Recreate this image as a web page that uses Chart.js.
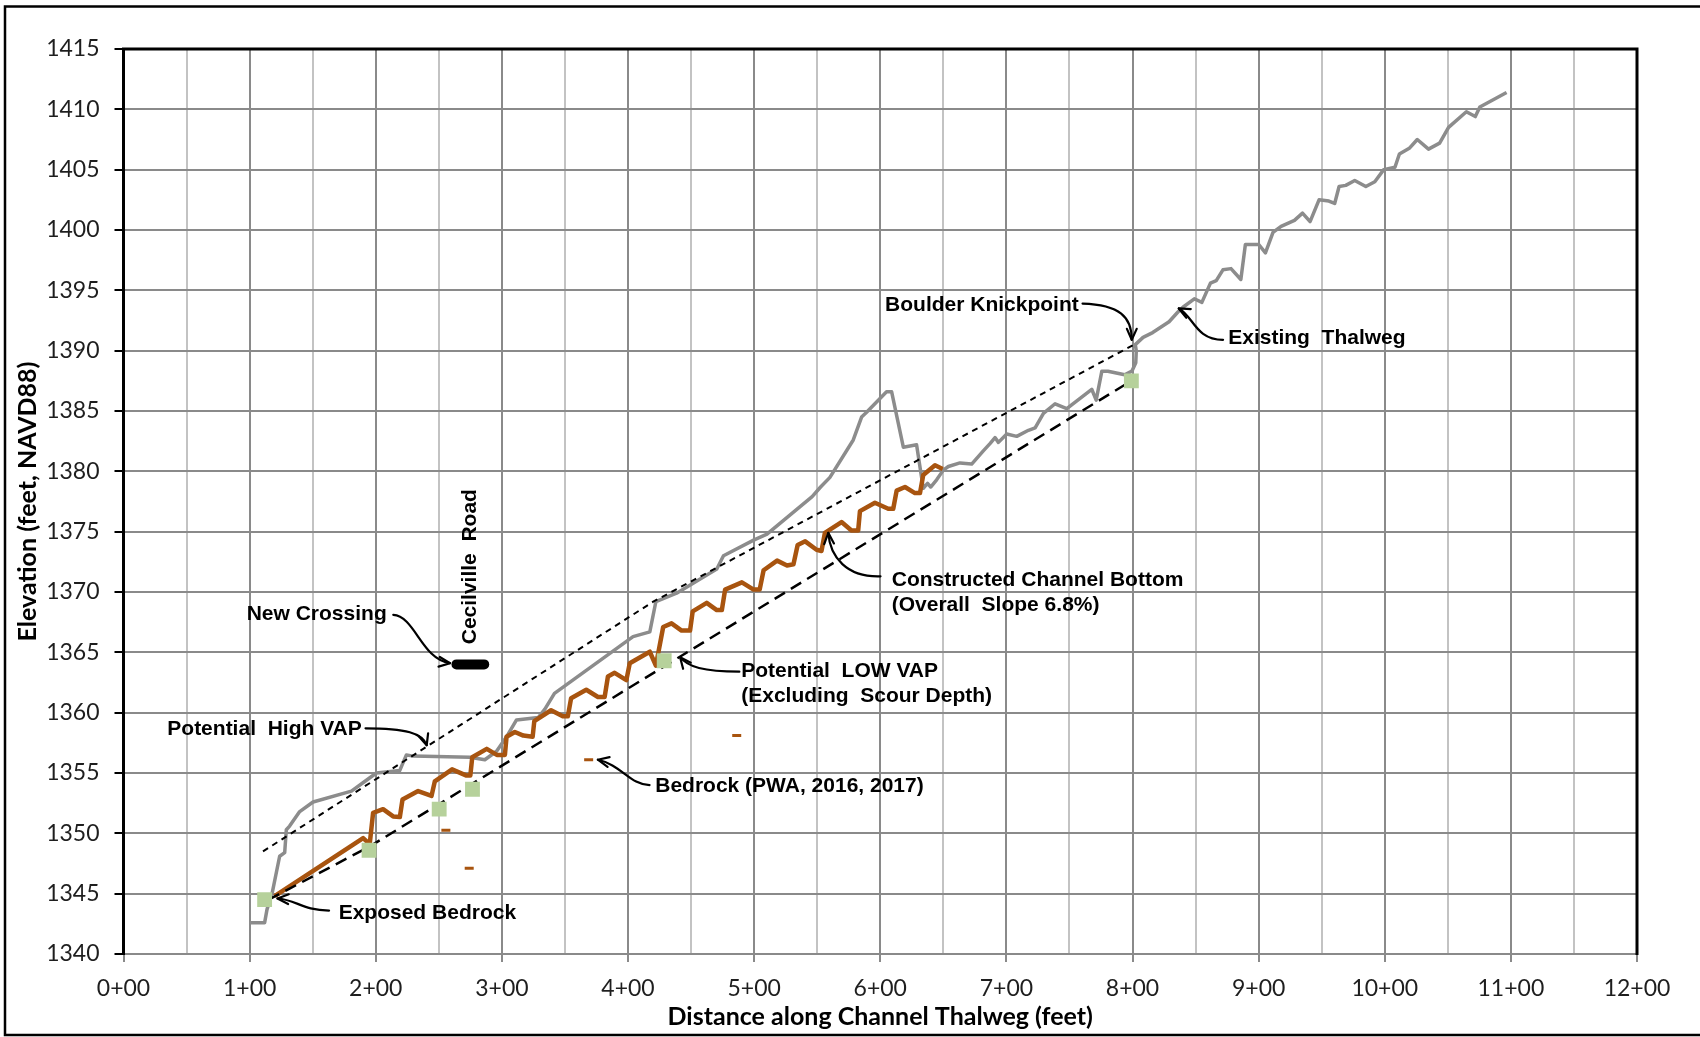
<!DOCTYPE html>
<html>
<head>
<meta charset="utf-8">
<style>
  html, body { margin: 0; padding: 0; background: #ffffff; }
  canvas { display: block; }
</style>
<script src="https://cdn.jsdelivr.net/npm/chart.js@4/dist/chart.umd.min.js"></script>
</head>
<body>
<canvas id="profile" width="1700" height="1037"></canvas>
<script>
// ---- Survey and design data (station in feet, elevation in feet NAVD88) ----

// Existing channel thalweg
const thalwegStation = [
  100, 111.9, 113.8, 118.0, 123.8, 127.8, 129.1, 131.7, 139.7, 150.3,
  180.7, 192.6, 200.5, 219.0, 224.3, 229.6, 274.6, 286.5, 295.8, 303.7,
  311.6, 328.8, 334.1, 341.7, 404.0, 417.3, 422.1, 438.5, 470.4, 475.7,
  499.6, 510.2, 546.0, 552.7, 560.1, 578.6, 585.2, 589.2, 605.0, 609.0,
  618.3, 628.8, 634.1, 637.5, 640.0, 644.7, 650.0, 654.0, 663.2, 672.5,
  681.7, 687.0, 691.0, 693.7, 700.3, 708.2, 717.5, 722.8, 729.4, 738.6,
  747.9, 767.7, 771.2, 775.7, 780.5, 793.8, 799.5, 802.6, 803.0, 802.2,
  808.4, 816.0, 829.0, 836.0, 840.0, 849.0, 855.0, 861.8, 866.4, 871.7,
  878.1, 885.9, 889.5, 900.1, 905.4, 911.4, 917.8, 928.4, 934.8, 940.8,
  947.9, 955.7, 960.3, 963.8, 969.1, 976.2, 985.0, 992.1, 999.2, 1008.1,
  1011.6, 1019.8, 1025.8, 1034.7, 1043.5, 1050.6, 1064.7, 1071.8, 1075.4, 1096.6
];
const thalwegElevation = [
  1342.6, 1342.6, 1343.7, 1345.1, 1348.1, 1348.4, 1350.3, 1350.6, 1351.8, 1352.6,
  1353.5, 1354.4, 1355.0, 1355.2, 1356.5, 1356.4, 1356.3, 1356.1, 1356.8, 1358.0,
  1359.4, 1359.6, 1360.3, 1361.6, 1366.3, 1366.7, 1369.2, 1369.9, 1371.9, 1373.0,
  1374.3, 1374.8, 1377.9, 1378.7, 1379.5, 1382.6, 1384.5, 1384.9, 1386.6, 1386.6,
  1382.0, 1382.2, 1378.6, 1379.0, 1378.7, 1379.3, 1380.1, 1380.4, 1380.7, 1380.6,
  1381.7, 1382.3, 1382.8, 1382.4, 1383.1, 1382.9, 1383.4, 1383.6, 1384.8, 1385.6,
  1385.2, 1386.8, 1385.9, 1388.3, 1388.3, 1388.0, 1388.3, 1389.0, 1390.0, 1390.5,
  1391.1, 1391.5, 1392.4, 1393.2, 1393.6, 1394.3, 1394.0, 1395.6, 1395.8, 1396.7,
  1396.8, 1395.9, 1398.8, 1398.8, 1398.1, 1399.8, 1400.3, 1400.8, 1401.4, 1400.7,
  1402.5, 1402.4, 1402.2, 1403.6, 1403.7, 1404.1, 1403.6, 1404.0, 1405.0, 1405.2,
  1406.3, 1406.8, 1407.5, 1406.7, 1407.2, 1408.5, 1409.8, 1409.4, 1410.2, 1411.4
];

// Constructed channel bottom (step-pool profile)
const channelStation = [
  119.8, 190.0, 195.2, 197.9, 205.8, 213.8, 219.1, 221.2, 233.6, 244.2,
  246.8, 260.5, 271.5, 275.0, 276.5, 288.0, 296.0, 302.4, 303.7, 310.3,
  317.0, 324.4, 325.7, 339.0, 348.3, 352.3, 354.9, 366.9, 376.2, 381.5,
  384.1, 389.4, 398.7, 401.4, 417.3, 422.1, 427.9, 434.5, 442.5, 449.2,
  451.3, 462.4, 470.4, 474.4, 477.0, 490.3, 499.6, 504.4, 507.5, 518.2,
  526.1, 531.2, 534.5, 540.5, 549.5, 553.4, 556.1, 569.3, 577.2, 582.5,
  583.9, 595.8, 606.3, 610.3, 613.0, 619.6, 627.5, 631.5, 634.1, 643.4,
  649.5
];
const channelElevation = [
  1344.8, 1349.6, 1349.1, 1351.7, 1352.0, 1351.4, 1351.35, 1352.8, 1353.5, 1353.1,
  1354.3, 1355.3, 1354.8, 1354.8, 1356.3, 1357.0, 1356.5, 1356.5, 1358.0, 1358.4,
  1358.1, 1358.0, 1359.3, 1360.2, 1359.7, 1359.7, 1361.2, 1361.9, 1361.3, 1361.3,
  1363.0, 1363.3, 1362.7, 1364.1, 1365.05, 1363.9, 1367.1, 1367.4, 1366.8, 1366.8,
  1368.4, 1369.1, 1368.5, 1368.5, 1370.2, 1370.8, 1370.2, 1370.2, 1371.8, 1372.6,
  1372.2, 1372.3, 1373.9, 1374.2, 1373.5, 1373.4, 1374.9, 1375.8, 1375.1, 1375.1,
  1376.7, 1377.4, 1376.9, 1376.9, 1378.4, 1378.7, 1378.2, 1378.2, 1379.7, 1380.5,
  1380.2
];

// Potential high vertical adjustment potential
const highVapStation = [110.6, 420.0, 803.0];
const highVapElevation = [1348.5, 1369.2, 1390.6];

// Potential low vertical adjustment potential (excluding scour depth)
const lowVapStation = [115.0, 195.0, 799.0];
const lowVapElevation = [1344.5, 1348.9, 1387.5];

// Low VAP control points
const controlStation = [111.9, 194.7, 250.3, 276.7, 428.7, 799.1];
const controlElevation = [1344.5, 1348.6, 1352.0, 1353.65, 1364.3, 1387.5];

// Bedrock observations (PWA, 2016, 2017)
const bedrockStation = [255.6, 274.1, 368.8, 486.2];
const bedrockElevation = [1350.25, 1347.1, 1356.1, 1358.1];

// New crossing deck
const crossingStation = [264.0, 286.0];
const crossingElevation = [1364.0, 1364.0];

// Axis tick labels
const stationLabels = ['0+00', '1+00', '2+00', '3+00', '4+00', '5+00', '6+00',
                       '7+00', '8+00', '9+00', '10+00', '11+00', '12+00'];
const elevationLabels = [1340, 1345, 1350, 1355, 1360, 1365, 1370, 1375,
                         1380, 1385, 1390, 1395, 1400, 1405, 1410, 1415];

// ---- Callouts: text anchored in data units, leader curves as cubic Beziers ----
const calloutFont = 'bold 21px "Liberation Sans", Arial, sans-serif';
const callouts = [
  { lines: ['Boulder Knickpoint'], at: [757.4, 1393.8], align: 'right' },
  { lines: ['Existing  Thalweg'], at: [875.9, 1391.0], align: 'left' },
  { lines: ['Constructed Channel Bottom', '(Overall  Slope 6.8%)'], at: [609.1, 1371.0], align: 'left' },
  { lines: ['Potential  LOW VAP', '(Excluding  Scour Depth)'], at: [489.8, 1363.4], align: 'left' },
  { lines: ['Bedrock (PWA, 2016, 2017)'], at: [421.6, 1353.9], align: 'left' },
  { lines: ['New Crossing'], at: [208.7, 1368.2], align: 'right' },
  { lines: ['Potential  High VAP'], at: [188.9, 1358.6], align: 'right' },
  { lines: ['Exposed Bedrock'], at: [170.6, 1343.4], align: 'left' }
];
const leaders = [
  [[760.4, 1393.9], [790.0, 1393.8], [799.5, 1392.8], [799.4, 1390.9]],
  [[871.8, 1390.9], [850.0, 1390.9], [848.0, 1392.9], [836.7, 1393.5]],
  [[600.2, 1371.3], [573.4, 1371.2], [560.2, 1372.9], [558.8, 1374.9]],
  [[488.3, 1363.4], [459.5, 1363.4], [447.4, 1363.8], [441.3, 1364.6]],
  [[417.1, 1354.0], [401.9, 1354.0], [394.3, 1355.7], [376.1, 1356.1]],
  [[213.9, 1368.1], [231.1, 1368.0], [236.4, 1364.4], [258.9, 1364.1]],
  [[191.9, 1358.7], [223.7, 1358.7], [237.4, 1358.3], [240.4, 1357.3]],
  [[163.0, 1343.6], [141.8, 1343.6], [137.2, 1344.5], [122.1, 1344.6]]
];
const roadLabel = { text: 'Cecilville  Road', at: [275.2, 1372.1] };

// ---- Helpers ----
const pairs = (xs, ys) => xs.map((x, i) => ({ x: x, y: ys[i] }));
const brown = '#a8540f';
const thalwegGrey = '#8c8c8c';
const gridDark = '#8a8a8a';
const gridLight = '#c3c3c3';

const calloutPlugin = {
  id: 'callouts',
  afterDatasetsDraw(chart) {
    const { ctx, scales: { x, y } } = chart;
    const px = p => [x.getPixelForValue(p[0]), y.getPixelForValue(p[1])];
    ctx.save();
    ctx.fillStyle = '#000';
    ctx.strokeStyle = '#000';
    ctx.font = calloutFont;
    ctx.textBaseline = 'middle';
    callouts.forEach(c => {
      const [tx, ty] = px(c.at);
      ctx.textAlign = c.align;
      c.lines.forEach((line, i) => ctx.fillText(line, tx, ty + i * 25));
    });
    ctx.lineWidth = 2.2;
    ctx.lineCap = 'round';
    ctx.lineJoin = 'round';
    leaders.forEach(seg => {
      const [p0, p1, p2, p3] = seg.map(px);
      ctx.beginPath();
      ctx.moveTo(p0[0], p0[1]);
      ctx.bezierCurveTo(p1[0], p1[1], p2[0], p2[1], p3[0], p3[1]);
      ctx.stroke();
      const ang = Math.atan2(p3[1] - p2[1], p3[0] - p2[0]);
      const len = 12, spread = 0.42;
      ctx.beginPath();
      ctx.moveTo(p3[0] - len * Math.cos(ang - spread), p3[1] - len * Math.sin(ang - spread));
      ctx.lineTo(p3[0], p3[1]);
      ctx.lineTo(p3[0] - len * Math.cos(ang + spread), p3[1] - len * Math.sin(ang + spread));
      ctx.stroke();
    });
    // vertical road label
    const [rx, ry] = px(roadLabel.at);
    ctx.translate(rx, ry);
    ctx.rotate(-Math.PI / 2);
    ctx.textAlign = 'center';
    ctx.fillText(roadLabel.text, 0, 0);
    ctx.restore();
  },
  afterDraw(chart) {
    const { ctx, chartArea: a } = chart;
    ctx.save();
    ctx.strokeStyle = '#000';
    // plot frame: top and right edges
    ctx.lineWidth = 3;
    ctx.beginPath();
    ctx.moveTo(a.left - 1.5, a.top);
    ctx.lineTo(a.right, a.top);
    ctx.lineTo(a.right, a.bottom + 1);
    ctx.stroke();
    // outer figure border
    ctx.lineWidth = 2.5;
    ctx.beginPath();
    ctx.moveTo(chart.width, 6.5);
    ctx.lineTo(5, 6.5);
    ctx.lineTo(5, 1035);
    ctx.lineTo(chart.width, 1035);
    ctx.stroke();
    ctx.restore();
  }
};

const background = {
  id: 'background',
  beforeDraw(chart) {
    const { ctx } = chart;
    ctx.save();
    ctx.fillStyle = '#ffffff';
    ctx.fillRect(0, 0, chart.width, chart.height);
    ctx.restore();
  }
};

const tickFont = { family: 'Lato, "Open Sans", sans-serif', size: 23, weight: 'normal' };
const titleFont = { family: 'Lato, "Open Sans", sans-serif', size: 25, weight: 'bold', lineHeight: 1 };

new Chart(document.getElementById('profile'), {
  type: 'scatter',
  data: {
    datasets: [
      {
        label: 'Low VAP Control',
        data: pairs(controlStation, controlElevation),
        showLine: false,
        pointStyle: 'rect',
        pointRadius: 10.5,
        pointBackgroundColor: '#b6d19b',
        pointBorderWidth: 0
      },
      {
        label: 'Bedrock (PWA, 2016, 2017)',
        data: pairs(bedrockStation, bedrockElevation),
        showLine: false,
        pointStyle: 'line',
        pointRadius: 4.5,
        pointBorderColor: brown,
        pointBorderWidth: 3
      },
      {
        label: 'New Crossing',
        data: pairs(crossingStation, crossingElevation),
        showLine: true,
        borderColor: '#000',
        borderWidth: 10,
        borderCapStyle: 'round',
        pointRadius: 0
      },
      {
        label: 'Potential High VAP',
        data: pairs(highVapStation, highVapElevation),
        showLine: true,
        borderColor: '#000',
        borderWidth: 2,
        borderDash: [6, 5],
        pointRadius: 0
      },
      {
        label: 'Potential LOW VAP',
        data: pairs(lowVapStation, lowVapElevation),
        showLine: true,
        borderColor: '#000',
        borderWidth: 2.5,
        borderDash: [12, 7],
        pointRadius: 0
      },
      {
        label: 'Constructed Channel Bottom',
        data: pairs(channelStation, channelElevation),
        showLine: true,
        borderColor: brown,
        borderWidth: 4.5,
        borderJoinStyle: 'round',
        pointRadius: 0
      },
      {
        label: 'Existing Thalweg',
        data: pairs(thalwegStation, thalwegElevation),
        showLine: true,
        borderColor: thalwegGrey,
        borderWidth: 3.5,
        borderJoinStyle: 'round',
        pointRadius: 0
      }
    ]
  },
  options: {
    responsive: false,
    animation: false,
    events: [],
    layout: { padding: { left: 0, right: 63, top: 49, bottom: 0 } },
    plugins: {
      legend: { display: false },
      tooltip: { enabled: false }
    },
    scales: {
      x: {
        type: 'linear',
        min: 0,
        max: 1200,
        afterFit: s => { s.height = 83; },
        afterBuildTicks: s => {
          s.ticks = [];
          for (let v = 0; v <= 1200; v += 50) s.ticks.push({ value: v });
        },
        ticks: {
          autoSkip: false,
          maxRotation: 0,
          padding: 13,
          color: '#1e1e1e',
          font: tickFont,
          callback: v => (v % 100 === 0 ? stationLabels[v / 100] : '')
        },
        grid: {
          color: c => (c.tick && c.tick.value % 100 !== 0 ? gridLight : gridDark),
          lineWidth: 2,
          tickLength: 8,
          tickColor: c => (c.tick && c.tick.value % 100 !== 0 ? 'rgba(0,0,0,0)' : gridDark)
        },
        border: { color: gridDark, width: 2 },
        title: {
          display: true,
          text: 'Distance along Channel Thalweg (feet)',
          color: '#000',
          font: titleFont,
          padding: { top: 0, bottom: 8 }
        }
      },
      y: {
        type: 'linear',
        min: 1340,
        max: 1415,
        afterFit: s => { s.width = 123.5; },
        afterBuildTicks: s => { s.ticks = elevationLabels.map(v => ({ value: v })); },
        ticks: {
          padding: 15,
          color: '#1e1e1e',
          font: tickFont,
          callback: v => String(v)
        },
        grid: {
          color: gridDark,
          lineWidth: 2,
          tickLength: 9,
          tickColor: '#000'
        },
        border: { color: '#000', width: 3 },
        title: {
          display: true,
          text: 'Elevation (feet, NAVD88)',
          color: '#000',
          font: titleFont,
          padding: { top: 15, bottom: 0 }
        }
      }
    }
  },
  plugins: [background, calloutPlugin]
});
</script>
</body>
</html>
